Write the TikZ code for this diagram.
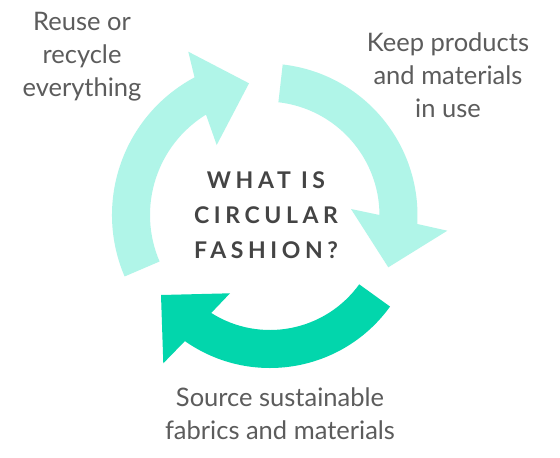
\documentclass[tikz,border=0pt]{standalone}
\usepackage{fontspec}
\setmainfont{Lato}
\newfontfamily\titlefont[LetterSpace=20]{Lato}
\usetikzlibrary{calc}
\definecolor{lightteal}{RGB}{176,245,232}
\definecolor{deepteal}{RGB}{2,214,172}
\definecolor{textgray}{RGB}{92,92,92}
\definecolor{titlegray}{RGB}{68,68,68}
\begin{document}
\begin{tikzpicture}[x=1pt,y=1pt,
  captiontext/.style={text=textgray, font=\fontsize{25.5}{33}\selectfont, align=center, inner sep=0pt},
  titletext/.style={text=titlegray, font=\titlefont\bfseries\fontsize{23}{35}\selectfont, align=center, inner sep=0pt}]
\useasboundingbox (0,0) rectangle (560,-458);
\fill[white] (0,0) rectangle (560,-458);
\coordinate (c1) at (268,-215);
\coordinate (c2) at (265.5,-215.5);
\coordinate (c3) at (270,-220);
% left arrow (up)
\fill[lightteal] ($(c1)+(203.2:156pt)$) arc[start angle=203.2,end angle=118.1,radius=156pt]
  -- (188.3,-51.7) -- (249,-83.3) -- (216.7,-145)
  -- ($(c1)+(121.7:118pt)$) arc[start angle=121.7,end angle=203.2,radius=118pt] -- cycle;
% right arrow (down)
\fill[lightteal] ($(c2)+(83.5:152pt)$) arc[start angle=83.5,end angle=-3.2,radius=152pt]
  -- (447.3,-230.7) -- (388.3,-267.3) -- (351,-209)
  -- ($(c2)+(0.25:114pt)$) arc[start angle=0.25,end angle=83.5,radius=114pt] -- cycle;
% bottom arrow (green)
\fill[deepteal] ($(c3)+(-35.8:148pt)$) arc[start angle=-35.8,end angle=-125.1,radius=148pt]
  -- (163.3,-363.3) -- (161,-295) -- (230,-293.3)
  -- ($(c3)+(-122.3:110pt)$) arc[start angle=-122.3,end angle=-35.8,radius=110pt] -- cycle;
\node[captiontext] (reuse) at (82,-57) {Reuse or\\recycle\\everything};
\node[captiontext] (keep) at (448,-75) {Keep products\\and materials\\in use};
\node[captiontext] (source) at (280,-414) {Source sustainable\\fabrics and materials};
\node[titletext] (what) at (266,-215) {WHAT IS\\CIRCULAR\\FASHION?};
\end{tikzpicture}
\end{document}
